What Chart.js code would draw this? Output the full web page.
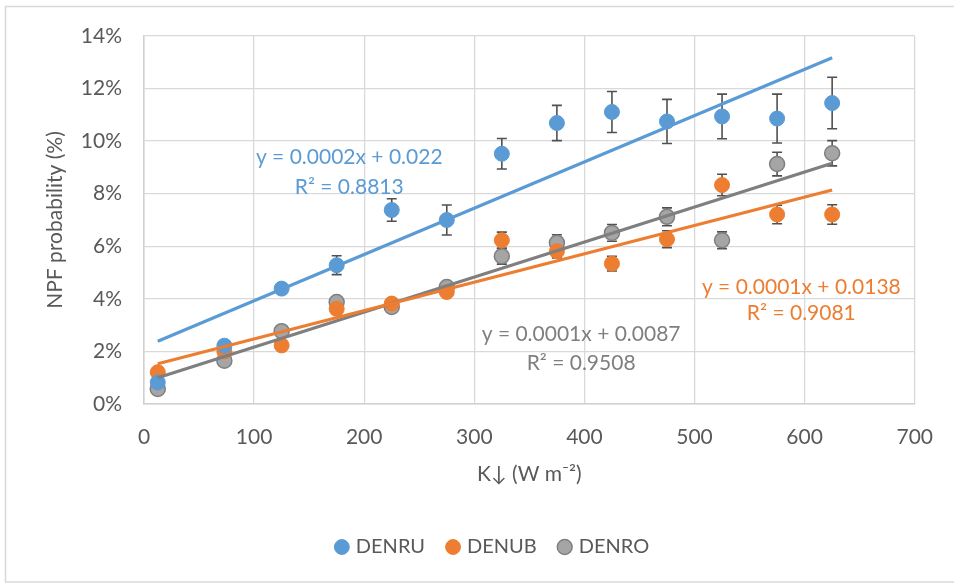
<!DOCTYPE html>
<html>
<head>
<meta charset="utf-8">
<script src="https://cdn.jsdelivr.net/npm/chart.js@4"></script>
<style>
  html, body { margin: 0; padding: 0; background: #ffffff; }
  #wrap { position: relative; width: 954px; height: 587px; }
</style>
</head>
<body>
<div id="wrap"><canvas id="npf-chart" width="954" height="587"></canvas></div>
<script>
// Data (y values in %)
var kDown = [12.5, 73, 125, 175, 225, 275, 325, 375, 425, 475, 525, 575, 625]; // K down (W m-2)

var denru = [0.82, 2.22, 4.39, 5.28, 7.38, 7.0, 9.52, 10.69, 11.11, 10.75, 10.94, 10.86, 11.45];
var denruErr = [0.05, 0.05, 0.15, 0.36, 0.43, 0.57, 0.58, 0.67, 0.78, 0.84, 0.85, 0.93, 0.98];

var denub = [1.21, 2.0, 2.23, 3.62, 3.82, 4.26, 6.23, 5.81, 5.34, 6.27, 8.33, 7.21, 7.21];
var denubErr = [0.05, 0.05, 0.05, 0.1, 0.1, 0.1, 0.31, 0.25, 0.28, 0.32, 0.41, 0.35, 0.37];

var denro = [0.57, 1.65, 2.77, 3.88, 3.69, 4.45, 5.62, 6.13, 6.51, 7.12, 6.23, 9.13, 9.54];
var denroErr = [0.05, 0.05, 0.08, 0.1, 0.1, 0.12, 0.3, 0.31, 0.32, 0.34, 0.32, 0.45, 0.48];

// Trendline end points as drawn in the picture
var trendX = [12.5, 625];
var denruTrend = [2.39, 13.17];
var denubTrend = [1.53, 8.14];
var denroTrend = [1.0, 9.16];

var xTicks = [0, 100, 200, 300, 400, 500, 600, 700];
var yTicks = [0, 2, 4, 6, 8, 10, 12, 14];
// End data

var FONT = "Lato, 'Noto Sans', sans-serif";
var BLUE = "#5b9bd5", ORANGE = "#ed7d31", GREY = "#a5a5a5", GREY_LINE = "#7f7f7f";

function pts(xs, ys) {
  return xs.map(function (x, i) { return { x: x, y: ys[i] }; });
}

// error bars, drawn under the markers
var errorBars = {
  id: "errorBars",
  beforeDatasetsDraw: function (chart) {
    var ctx = chart.ctx, xs = chart.scales.x, ys = chart.scales.y;
    ctx.save();
    ctx.strokeStyle = "#505050";
    ctx.lineWidth = 1.6;
    chart.data.datasets.forEach(function (ds) {
      if (!ds.errors) return;
      ds.data.forEach(function (p, i) {
        var e = ds.errors[i];
        var px = xs.getPixelForValue(p.x);
        var top = ys.getPixelForValue(p.y + e);
        var bot = ys.getPixelForValue(p.y - e);
        ctx.beginPath();
        ctx.moveTo(px, top); ctx.lineTo(px, bot);
        ctx.moveTo(px - 5, top); ctx.lineTo(px + 5, top);
        ctx.moveTo(px - 5, bot); ctx.lineTo(px + 5, bot);
        ctx.stroke();
      });
    });
    ctx.restore();
  }
};

// trendline equations
var equations = {
  id: "equations",
  afterDatasetsDraw: function (chart, args, opts) {
    var ctx = chart.ctx, xs = chart.scales.x, ys = chart.scales.y;
    ctx.save();
    ctx.font = "21px " + FONT;
    ctx.textAlign = "center";
    ctx.textBaseline = "middle";
    opts.items.forEach(function (it) {
      ctx.fillStyle = it.color;
      ctx.fillText(it.lines[0], xs.getPixelForValue(it.x), ys.getPixelForValue(it.y[0]));
      ctx.fillText(it.lines[1], xs.getPixelForValue(it.x), ys.getPixelForValue(it.y[1]));
    });
    ctx.restore();
  }
};

// outer chart frame + legend nudge
var frame = {
  id: "frame",
  afterLayout: function (chart) {
    chart.legend.left += 50;
  },
  beforeDraw: function (chart) {
    var ctx = chart.ctx;
    ctx.save();
    ctx.fillStyle = "#ffffff";
    ctx.fillRect(0, 0, chart.width, chart.height);
    ctx.strokeStyle = "#d9d9d9";
    ctx.lineWidth = 1.5;
    ctx.strokeRect(5.5, 6.5, 960, 575.5);
    ctx.restore();
  }
};

var ctx = document.getElementById("npf-chart").getContext("2d");

var myChart = new Chart(ctx, {
  type: "scatter",
  data: {
    datasets: [
      {
        label: "DENRU",
        data: pts(kDown, denru),
        errors: denruErr,
        backgroundColor: BLUE,
        borderColor: BLUE,
        borderWidth: 1,
        pointRadius: 7.5,
        order: 1
      },
      {
        label: "DENUB",
        data: pts(kDown, denub),
        errors: denubErr,
        backgroundColor: ORANGE,
        borderColor: ORANGE,
        borderWidth: 1,
        pointRadius: 7.5,
        order: 1
      },
      {
        label: "DENRO",
        data: pts(kDown, denro),
        errors: denroErr,
        backgroundColor: GREY,
        borderColor: GREY_LINE,
        borderWidth: 1.5,
        pointRadius: 7.5,
        order: 1
      },
      {
        label: "trend DENRU",
        data: pts(trendX, denruTrend),
        showLine: true,
        borderColor: BLUE,
        borderWidth: 3.2,
        pointRadius: 0,
        order: 0
      },
      {
        label: "trend DENUB",
        data: pts(trendX, denubTrend),
        showLine: true,
        borderColor: ORANGE,
        borderWidth: 3.2,
        pointRadius: 0,
        order: 0
      },
      {
        label: "trend DENRO",
        data: pts(trendX, denroTrend),
        showLine: true,
        borderColor: GREY_LINE,
        borderWidth: 3.2,
        pointRadius: 0,
        order: 0
      }
    ]
  },
  options: {
    responsive: false,
    animation: false,
    events: [],
    layout: { padding: { left: 20, top: 36, right: 37, bottom: 20 } },
    scales: {
      x: {
        type: "linear",
        min: 0,
        max: 700,
        afterBuildTicks: function (s) { s.ticks = xTicks.map(function (v) { return { value: v }; }); },
        afterFit: function (s) { s.height = 109; },
        grid: { color: "#d9d9d9", lineWidth: 1.3, drawTicks: false },
        border: { color: "#d0d0d0", width: 1.5 },
        ticks: { padding: 21, color: "#595959", font: { family: FONT, size: 21 } },
        title: {
          display: true,
          text: "K\u2193 (W m\u207B\u00B2)",
          color: "#595959",
          font: { family: FONT, size: 21 },
          padding: { top: 0, bottom: 26 }
        }
      },
      y: {
        type: "linear",
        min: 0,
        max: 14,
        afterBuildTicks: function (s) { s.ticks = yTicks.map(function (v) { return { value: v }; }); },
        afterFit: function (s) { s.width = 124; },
        grid: { color: "#d9d9d9", lineWidth: 1.3, drawTicks: false },
        border: { color: "#d0d0d0", width: 1.5 },
        ticks: {
          padding: 22,
          color: "#595959",
          font: { family: FONT, size: 21 },
          callback: function (v) { return v + "%"; }
        },
        title: {
          display: true,
          text: "NPF probability (%)",
          color: "#595959",
          font: { family: FONT, size: 21 },
          padding: { top: 23, bottom: 0 }
        }
      }
    },
    plugins: {
      tooltip: { enabled: false },
      legend: {
        position: "bottom",
        labels: {
          filter: function (item) { return item.datasetIndex < 3; },
          usePointStyle: true,
          pointStyle: "circle",
          boxWidth: 8,
          boxHeight: 10.5,
          padding: 24,
          color: "#595959",
          font: { family: FONT, size: 20 }
        }
      },
      equations: {
        items: [
          { lines: ["y = 0.0002x + 0.022", "R\u00B2 = 0.8813"], x: 186.4, y: [9.37, 8.26], color: BLUE },
          { lines: ["y = 0.0001x + 0.0138", "R\u00B2 = 0.9081"], x: 597, y: [4.44, 3.45], color: ORANGE },
          { lines: ["y = 0.0001x + 0.0087", "R\u00B2 = 0.9508"], x: 397, y: [2.64, 1.54], color: GREY_LINE }
        ]
      }
    }
  },
  plugins: [frame, errorBars, equations]
});
</script>
</body>
</html>
